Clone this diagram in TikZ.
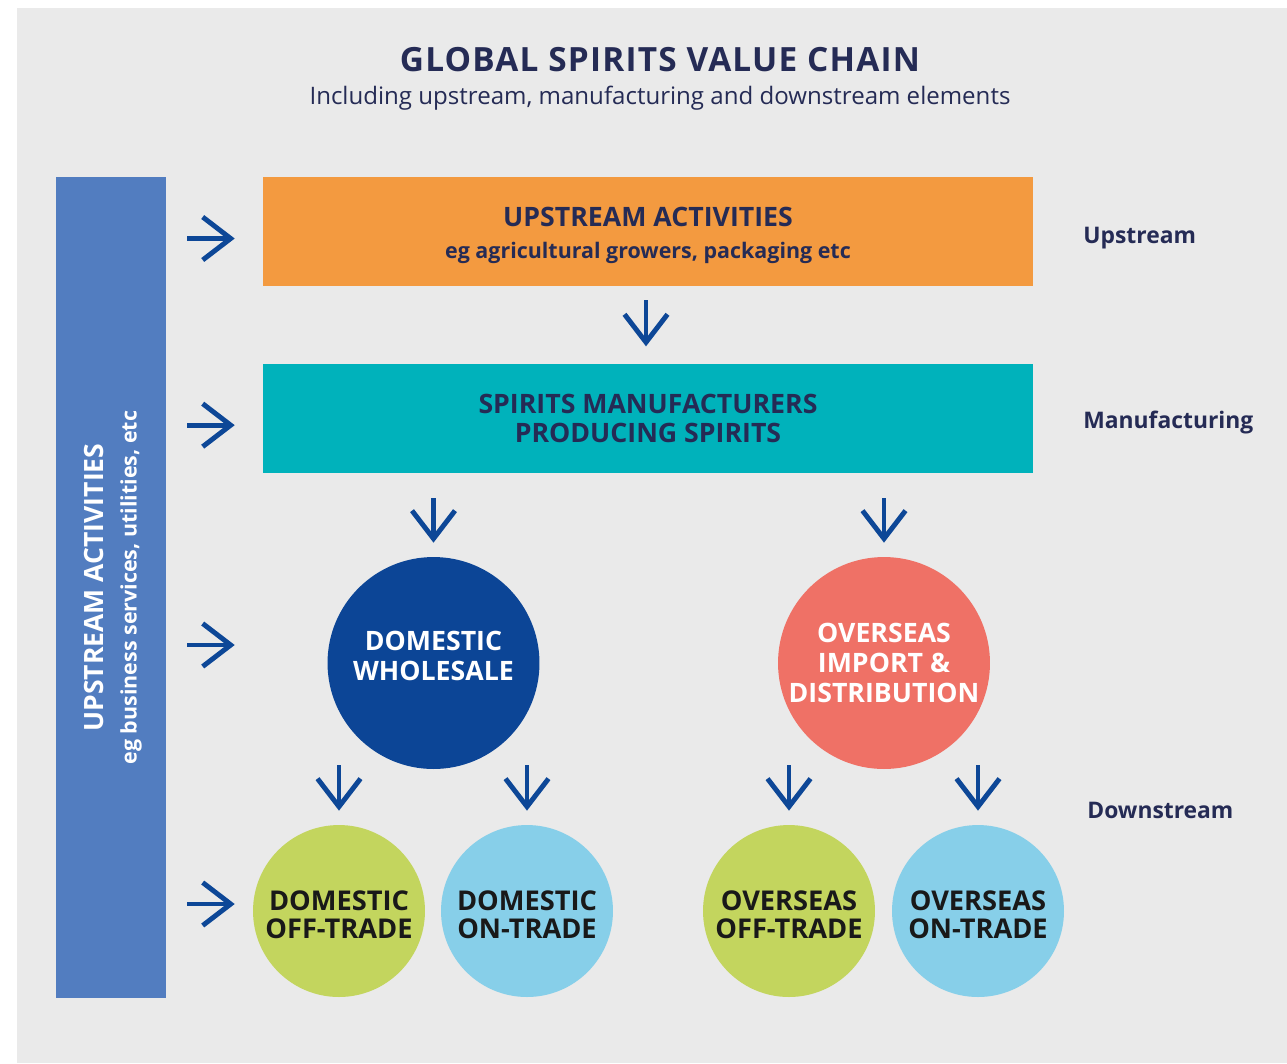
\documentclass[tikz,border=0pt]{standalone}
\usepackage{fontspec}
\setmainfont{Open Sans}
\usepackage{xcolor}
\usepackage{tikz}
\usetikzlibrary{positioning,arrows.meta}
\pgfdeclarelayer{nodelayer}
\pgfdeclarelayer{edgelayer}
\pgfsetlayers{main,nodelayer,edgelayer}
\definecolor{paper}{HTML}{EAEAEA}
\definecolor{navy}{HTML}{252B55}
\definecolor{arrowblue}{HTML}{0D4797}
\definecolor{barblue}{HTML}{527DC0}
\definecolor{uporange}{HTML}{F39A40}
\definecolor{mfteal}{HTML}{00B2BB}
\definecolor{deepblue}{HTML}{0C4596}
\definecolor{salmon}{HTML}{EF7166}
\definecolor{limegreen}{HTML}{C3D55E}
\definecolor{skyblue}{HTML}{87CFE9}
\newcommand{\lift}{\rule{0pt}{15.6pt}}
\tikzstyle{stage box}=[rectangle, minimum width=15.4cm, minimum height=2.18cm, align=center, text=navy, font=\bfseries\fontsize{15.2}{16.5}\selectfont]
\tikzstyle{hub}=[circle, minimum size=4.24cm, inner sep=0pt, align=center, text=white, font=\bfseries\fontsize{15.2}{17}\selectfont]
\tikzstyle{outlet}=[circle, minimum size=3.44cm, inner sep=0pt, align=center, text=black!90, font=\bfseries\fontsize{15.5}{16}\selectfont]
\tikzstyle{side label}=[anchor=west, inner sep=0pt, text=navy, font=\bfseries\fontsize{13}{15}\selectfont]
\tikzstyle{flow}=[-{Straight Barb[length=0.56cm, width=0.86cm]}, draw=arrowblue, line width=2.8pt]

\begin{document}
\begin{tikzpicture}[x=0.02cm, y=-0.02cm]
        \fill[white] (0,0) rectangle (1287,1063);
        \fill[paper] (17,8) rectangle (1287,1063);
        \useasboundingbox (0,0) rectangle (1287,1063);
        \begin{pgfonlayer}{nodelayer}
            \node[text=navy, font=\bfseries\fontsize{19}{21}\selectfont\addfontfeatures{LetterSpace=3.6}] (title) at (660,60) {GLOBAL SPIRITS VALUE CHAIN};
            \node[text=navy, font=\fontsize{13.7}{15}\selectfont] (subtitle) at (660,98) {Including upstream, manufacturing and downstream elements};
            \node[fill=barblue, minimum width=2.2cm, minimum height=16.42cm] (bar) at (111,587.5) {};
            \node[rotate=90, text=white, align=center, font=\bfseries\fontsize{15.1}{19}\selectfont] (bartext) at (113,587.5) {UPSTREAM ACTIVITIES\\{\fontsize{12.2}{19}\selectfont eg business services, utilities, etc}};
            \node[style=stage box, fill=uporange] (up) at (648,231.5) {\lift UPSTREAM ACTIVITIES\\[2pt]{\fontsize{12.2}{15}\selectfont eg agricultural growers, packaging etc}};
            \node[style=stage box, fill=mfteal, below=1.54cm of up] (man) {SPIRITS MANUFACTURERS\\PRODUCING SPIRITS};
            \node[style=hub, fill=deepblue] (dw) at (433.5,663) {DOMESTIC\\WHOLESALE\\[-9pt]};
            \node[style=hub, fill=salmon] (ov) at (884,663) {OVERSEAS\\IMPORT \&\\DISTRIBUTION};
            \node[style=outlet, fill=limegreen] (doff) at (339,911) {\lift DOMESTIC\\OFF-TRADE};
            \node[style=outlet, fill=skyblue] (don) at (527,911) {\lift DOMESTIC\\ON-TRADE};
            \node[style=outlet, fill=limegreen] (ooff) at (789,911) {\lift OVERSEAS\\OFF-TRADE};
            \node[style=outlet, fill=skyblue] (oon) at (978,911) {\lift OVERSEAS\\ON-TRADE};
            \node[style=side label] (lup) at (1083,238) {Upstream};
            \node[style=side label] (lman) at (1083,422) {Manufacturing};
            \node[style=side label] (ldown) at (1087,810) {Downstream};
        \end{pgfonlayer}
        \begin{pgfonlayer}{edgelayer}
            % feeds from the side bar
            \draw[style=flow, shorten <=0.42cm, shorten >=0.56cm] ([yshift=-1.4mm]bar.east |- up.west) -- ([yshift=-1.4mm]up.west);
            \draw[style=flow, shorten <=0.42cm, shorten >=0.56cm] ([yshift=-1.4mm]bar.east |- man.west) -- ([yshift=-1.4mm]man.west);
            \draw[style=flow, shorten <=0.42cm, shorten >=0.56cm] ([yshift=3.6mm]bar.east |- dw) -- ([yshift=3.6mm]man.west |- dw);
            \draw[style=flow, shorten <=0.42cm, shorten >=0.56cm] ([yshift=1.4mm]bar.east |- doff) -- ([yshift=1.4mm]man.west |- doff);
            % down the chain
            \draw[style=flow, shorten <=0.28cm, shorten >=0.34cm] ([xshift=-0.4mm]up.south) -- ([xshift=-0.4mm]man.north);
            \draw[style=flow, shorten <=0.5cm, shorten >=0.28cm] (man.south -| dw.north) -- (dw.north);
            \draw[style=flow, shorten <=0.5cm, shorten >=0.28cm] (man.south -| ov.north) -- (ov.north);
            \foreach \a/\b in {dw/doff, dw/don, ov/ooff, ov/oon}
                \draw[style=flow, shorten <=-0.08cm, shorten >=0.28cm] (\a.south -| \b.north) -- (\b.north);
        \end{pgfonlayer}
    \end{tikzpicture}
\end{document}
